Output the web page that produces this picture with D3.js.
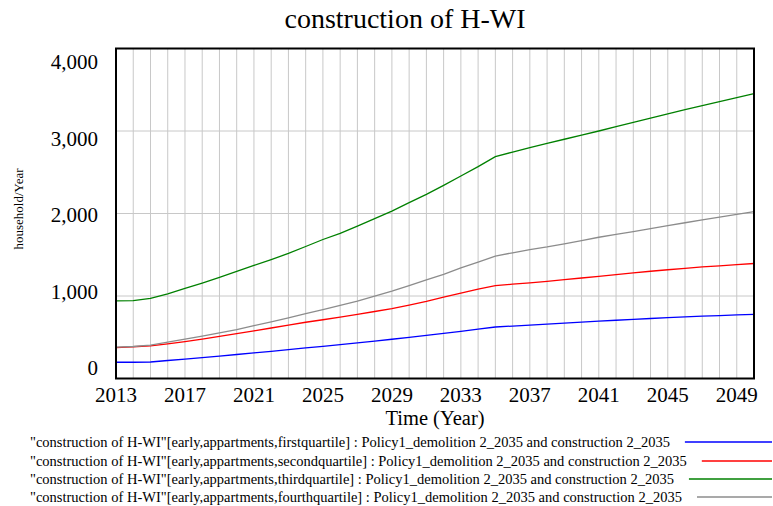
<!DOCTYPE html>
<html><head><meta charset="utf-8">
<script src="https://cdn.jsdelivr.net/npm/d3@7"></script>
<style>body{margin:0;background:#fff}svg{display:block;font-family:"Liberation Serif","Times New Roman",serif}</style>
</head><body><svg id="c" width="773" height="506"></svg>
<script>
const years = d3.range(2013, 2051);
const firstQuartile  = [197,197,200,218,236,254,272,291,310,330,350,370,390,411,432,454,476,499,522,547,572,598,624,636,648,660,672,684,695,706,717,727,737,746,755,763,771,777];
const secondQuartile = [375,385,395,420,448,478,510,543,578,612,647,682,712,745,777,812,848,890,935,985,1035,1083,1127,1143,1160,1178,1198,1218,1238,1260,1280,1300,1318,1335,1352,1366,1380,1394];
const thirdQuartile  = [940,945,970,1027,1092,1157,1226,1298,1370,1442,1516,1600,1685,1758,1847,1937,2029,2131,2232,2341,2454,2568,2689,2745,2799,2851,2900,2950,3000,3052,3104,3156,3208,3259,3308,3357,3405,3452];
const fourthQuartile = [380,388,405,440,478,513,552,593,640,686,735,786,836,885,937,998,1058,1127,1195,1263,1340,1410,1483,1524,1562,1595,1633,1672,1712,1747,1781,1816,1853,1888,1924,1956,1989,2022];
const yTicks = [0,1000,2000,3000,4000];
const xTicks = [2013,2017,2021,2025,2029,2033,2037,2041,2045,2049];
const seriesLabels = [
  '"construction of H-WI"[early,appartments,firstquartile] : Policy1_demolition 2_2035 and construction 2_2035',
  '"construction of H-WI"[early,appartments,secondquartile] : Policy1_demolition 2_2035 and construction 2_2035',
  '"construction of H-WI"[early,appartments,thirdquartile] : Policy1_demolition 2_2035 and construction 2_2035',
  '"construction of H-WI"[early,appartments,fourthquartile] : Policy1_demolition 2_2035 and construction 2_2035'
];
const seriesValues = [firstQuartile, secondQuartile, thirdQuartile, fourthQuartile];
const seriesColors = ["#0000ff","#ff0000","#008000","#8c8c8c"];

const svg = d3.select("#c");
const L = 116, R = 754, T = 48.5, B = 378.5;
const x = d3.scaleLinear().domain([2013, 2050]).range([L, R]);
const y = d3.scaleLinear().domain([0, 4000]).range([B, T]);
const yLab = d3.scaleLinear().domain([0, 4000]).range([368, 62]);

// gridlines
svg.append("g").selectAll("line").data(d3.range(2014, 2050)).join("line")
  .attr("x1", d => x(d)).attr("x2", d => x(d)).attr("y1", T).attr("y2", B)
  .attr("stroke", "#c8c8c8").attr("stroke-width", 1);
svg.append("g").selectAll("line").data([1000,2000,3000]).join("line")
  .attr("x1", L).attr("x2", R).attr("y1", d => y(d)).attr("y2", d => y(d))
  .attr("stroke", "#c8c8c8").attr("stroke-width", 1);

// lines
const line = d3.line().x((d, i) => x(years[i])).y(d => y(d));
seriesValues.forEach((vals, k) => {
  svg.append("path").datum(vals).attr("d", line)
    .attr("fill", "none").attr("stroke", seriesColors[k]).attr("stroke-width", 1.3);
});

// frame
svg.append("rect").attr("x", L).attr("y", T).attr("width", R - L).attr("height", B - T)
  .attr("fill", "none").attr("stroke", "#000").attr("stroke-width", 2);

// y labels
svg.append("g").selectAll("text").data(yTicks).join("text")
  .attr("x", 98).attr("y", d => yLab(d)).attr("dy", "0.35em")
  .attr("text-anchor", "end").attr("font-size", 21).attr("fill", "#000")
  .text(d => d3.format(",")(d));
// x labels
svg.append("g").selectAll("text").data(xTicks).join("text")
  .attr("x", d => x(d)).attr("y", 395).attr("dy", "0.35em")
  .attr("text-anchor", "middle").attr("font-size", 21).attr("fill", "#000")
  .text(d => d);

svg.append("text").attr("x", (L + R) / 2).attr("y", 418).attr("dy", "0.35em")
  .attr("text-anchor", "middle").attr("font-size", 20.5).text("Time (Year)");
svg.append("text").attr("transform", "translate(18,209) rotate(-90)").attr("dy", "0.35em")
  .attr("text-anchor", "middle").attr("font-size", 13).text("household/Year");
svg.append("text").attr("x", 405).attr("y", 18).attr("dy", "0.35em")
  .attr("text-anchor", "middle").attr("font-size", 28).text("construction of H-WI");

// legend
const legY = [442, 461, 479, 497];
seriesLabels.forEach((t, k) => {
  const tx = svg.append("text").attr("x", 30).attr("y", legY[k]).attr("dy", "0.35em")
    .attr("font-size", 14.5).text(t);
  const w = tx.node().getComputedTextLength();
  svg.append("line").attr("x1", 30 + w + 15).attr("x2", 772)
    .attr("y1", legY[k]).attr("y2", legY[k])
    .attr("stroke", seriesColors[k]).attr("stroke-width", 1.3);
});
</script></body></html>
